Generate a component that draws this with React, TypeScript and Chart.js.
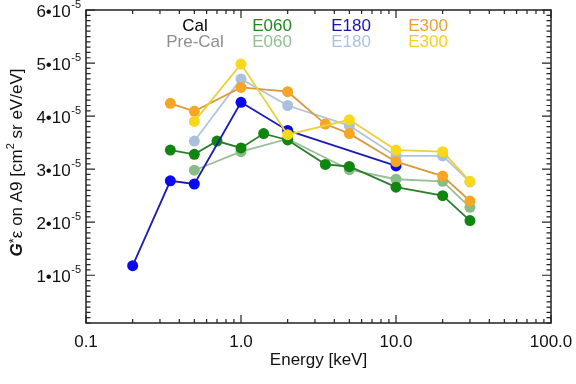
import React, { useEffect, useRef } from "react";
import { Chart, registerables } from "chart.js";

Chart.register(...registerables);

// Energies [keV] and G*eps values (units of 1e-5 cm^2 sr eV/eV)
const calE060X = [0.35, 0.5, 0.7, 1.0, 1.4, 2.0, 3.5, 5, 10, 20, 30];
const calE060Y = [3.36, 3.28, 3.53, 3.4, 3.67, 3.55, 3.09, 3.05, 2.66, 2.5, 2.03];
const preE060X = [0.5, 1.0, 2.0, 5, 10, 20, 30];
const preE060Y = [2.98, 3.33, 3.57, 2.99, 2.81, 2.77, 2.28];
const calE180X = [0.2, 0.35, 0.5, 1.0, 2.0, 10];
const calE180Y = [1.18, 2.78, 2.72, 4.26, 3.73, 3.06];
const preE180X = [0.5, 1.0, 2.0, 5, 10, 20, 30];
const preE180Y = [3.53, 4.7, 4.2, 3.82, 3.25, 3.25, 2.76];
const calE300X = [0.35, 0.5, 1.0, 2.0, 3.5, 5, 10, 20, 30];
const calE300Y = [4.24, 4.09, 4.54, 4.46, 3.85, 3.67, 3.14, 2.87, 2.4];
const preE300X = [0.5, 1.0, 2.0, 5, 10, 20, 30];
const preE300Y = [3.9, 4.98, 3.65, 3.93, 3.36, 3.33, 2.77];

const xDecades = [0.1, 1, 10, 100];
const xTickLabels = ["0.1", "1.0", "10.0", "100.0"];
const yMajor = [1, 2, 3, 4, 5, 6];
const yExp = "-5";
const SCALE = 1e-5;

const FONT = "Liberation Sans, Arial, Helvetica, sans-serif";

const toPts = (xs: number[], ys: number[]) => xs.map((x, i) => ({ x, y: ys[i] * SCALE }));

function ds(label: string, xs: number[], ys: number[], line: string, fill: string) {
  return {
    label,
    data: toPts(xs, ys),
    borderColor: line,
    backgroundColor: fill,
    pointBackgroundColor: fill,
    pointBorderColor: fill,
    pointRadius: 5.5,
    pointBorderWidth: 0,
    borderWidth: 1.8,
    tension: 0,
  };
}

const framePlugin = {
  id: "frame",
  afterDraw(chart: any) {
    const { ctx, chartArea: a, scales } = chart;
    const xs = scales.x, ys = scales.y;
    ctx.save();
    ctx.strokeStyle = "#222";
    ctx.lineWidth = 1.5;
    ctx.strokeRect(a.left, a.top, a.right - a.left, a.bottom - a.top);
    ctx.lineWidth = 1.2;
    // x ticks
    for (let d = 0; d < xDecades.length; d++) {
      const base = xDecades[d];
      for (let k = 1; k <= 9; k++) {
        const v = base * k;
        if (v > 100 + 1e-9) break;
        const px = xs.getPixelForValue(v);
        const len = k === 1 ? 8 : 4;
        ctx.beginPath();
        ctx.moveTo(px, a.bottom);
        ctx.lineTo(px, a.bottom - len);
        ctx.moveTo(px, a.top);
        ctx.lineTo(px, a.top + len);
        ctx.stroke();
      }
    }
    // y ticks
    for (let m = 1; m <= 60; m++) {
      const v = m * 1e-6;
      const py = ys.getPixelForValue(v);
      const len = m % 10 === 0 ? 9 : 4.5;
      ctx.beginPath();
      ctx.moveTo(a.left, py);
      ctx.lineTo(a.left + len, py);
      ctx.moveTo(a.right, py);
      ctx.lineTo(a.right - len, py);
      ctx.stroke();
    }
    // x tick labels
    ctx.fillStyle = "#111";
    ctx.font = `17px ${FONT}`;
    ctx.textAlign = "center";
    ctx.textBaseline = "middle";
    xDecades.forEach((v, i) => {
      ctx.fillText(xTickLabels[i], xs.getPixelForValue(v), a.bottom + 19);
    });
    ctx.fillText("Energy [keV]", (a.left + a.right) / 2, a.bottom + 37);
    // y tick labels
    yMajor.forEach((m) => {
      const py = ys.getPixelForValue(m * SCALE) + 2;
      ctx.font = `11px ${FONT}`;
      const ew = ctx.measureText(yExp).width;
      const ex = a.left - 5 - ew;
      ctx.textAlign = "left";
      ctx.fillText(yExp, ex, py - 7);
      ctx.font = `17px ${FONT}`;
      ctx.textAlign = "right";
      ctx.fillText(`${m}\u202210`, ex - 0.5, py);
    });
    // y title (rotated)
    ctx.save();
    ctx.translate(17, (a.top + a.bottom) / 2 - 4);
    ctx.rotate(-Math.PI / 2);
    ctx.textBaseline = "middle";
    ctx.textAlign = "left";
    const parts: { t: string; f: string; dy: number }[] = [
      { t: "G", f: `italic bold 17px ${FONT}`, dy: 0 },
      { t: "*", f: `13px ${FONT}`, dy: -3 },
      { t: "\u03b5 on A9 [cm", f: `17px ${FONT}`, dy: 0 },
      { t: "2", f: `11px ${FONT}`, dy: -6 },
      { t: " sr eV/eV]", f: `17px ${FONT}`, dy: 0 },
    ];
    let total = 0;
    parts.forEach((p) => {
      ctx.font = p.f;
      total += ctx.measureText(p.t).width;
    });
    let cx = -total / 2;
    parts.forEach((p) => {
      ctx.font = p.f;
      ctx.fillText(p.t, cx, p.dy);
      cx += ctx.measureText(p.t).width;
    });
    ctx.restore();
    // legend text
    ctx.font = `17px ${FONT}`;
    ctx.textAlign = "center";
    const legend: [string, string, number, number][] = [
      ["Cal", "#000000", 195, 26],
      ["Pre-Cal", "#8e8e8e", 195, 42],
      ["E060", "#1f8a1f", 272, 26],
      ["E060", "#93c093", 272, 42],
      ["E180", "#1616a8", 351, 26],
      ["E180", "#adc3dd", 351, 42],
      ["E300", "#eaa135", 428, 26],
      ["E300", "#f5d21a", 428, 42],
    ];
    legend.forEach(([t, c, x, y]) => {
      ctx.fillStyle = c;
      ctx.fillText(t, x, y);
    });
    ctx.restore();
  },
};

export default function App() {
  const ref = useRef<HTMLCanvasElement>(null);
  useEffect(() => {
    if (!ref.current) return;
    const chart = new Chart(ref.current, {
      type: "line",
      data: {
        datasets: [
          ds("Pre-Cal E300", preE300X, preE300Y, "#ecd040", "#f8d81a"),
          ds("Cal E300", calE300X, calE300Y, "#d99a3a", "#f6a623"),
          ds("Pre-Cal E180", preE180X, preE180Y, "#b3c4da", "#a9c1de"),
          ds("Cal E180", calE180X, calE180Y, "#1c1cb0", "#0a0af0"),
          ds("Cal E060", calE060X, calE060Y, "#2b7d2b", "#108510"),
          ds("Pre-Cal E060", preE060X, preE060Y, "#98bf98", "#88bc88"),
        ] as any,
      },
      options: {
        animation: false,
        responsive: true,
        maintainAspectRatio: false,
        layout: { padding: { left: 86, right: 25, top: 10, bottom: 61 } },
        plugins: { legend: { display: false }, tooltip: { enabled: false } },
        scales: {
          x: { type: "logarithmic", min: 0.1, max: 100, display: false },
          y: { type: "linear", min: 1e-6, max: 6e-5, display: false },
        },
      },
      plugins: [framePlugin],
    });
    return () => chart.destroy();
  }, []);
  return (
    <div style={{ position: "fixed", left: 0, top: 0, width: 576, height: 384, background: "#fff" }}>
      <canvas ref={ref} />
    </div>
  );
}
